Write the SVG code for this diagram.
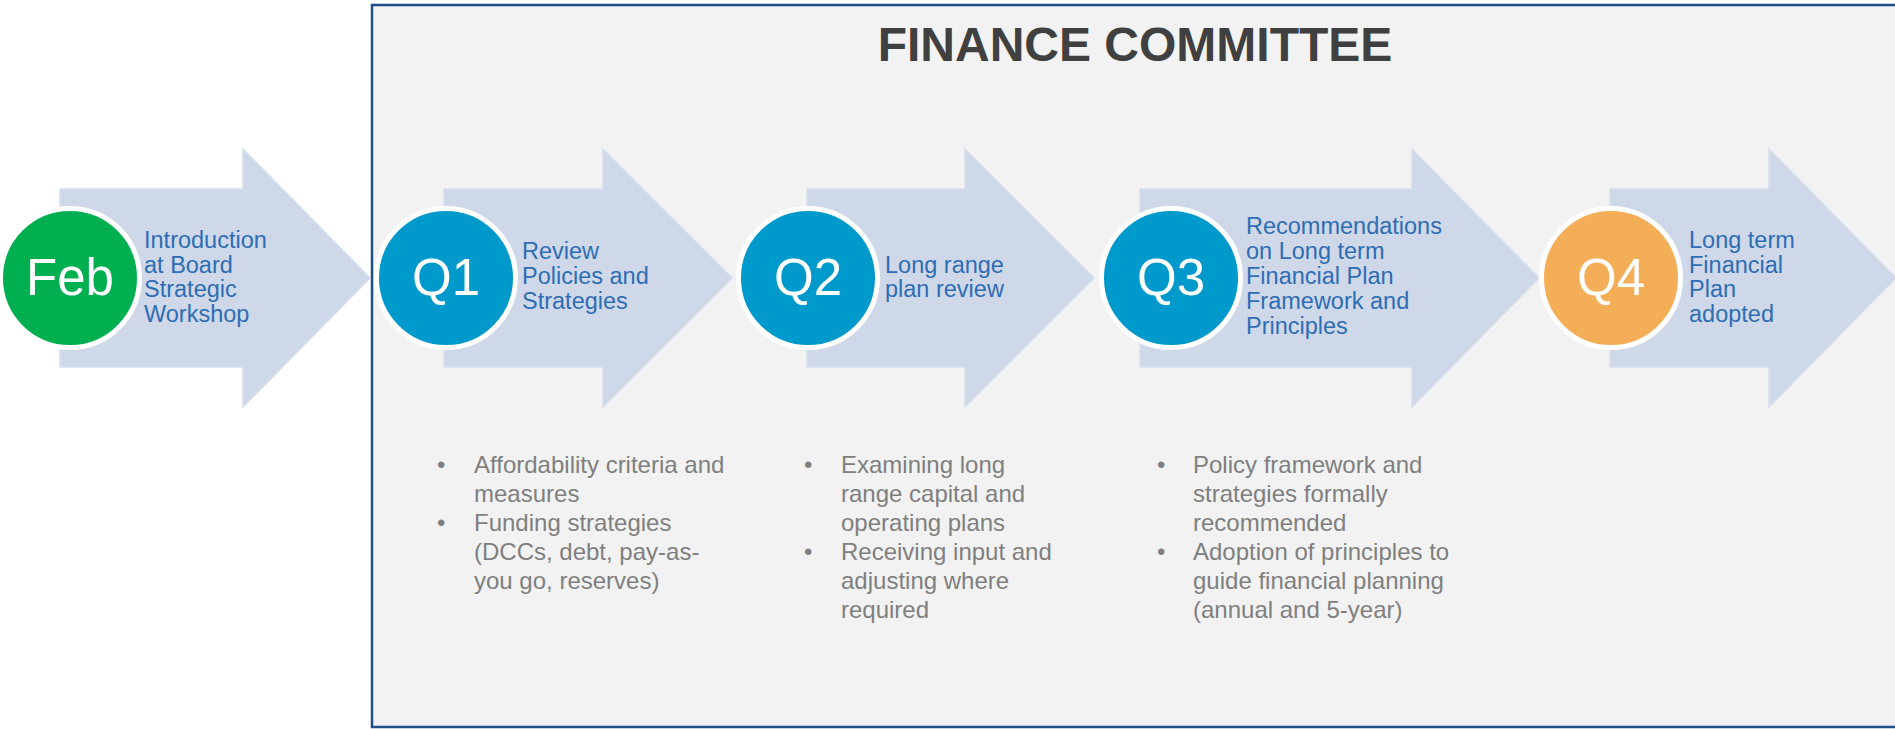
<svg xmlns="http://www.w3.org/2000/svg" width="1895" height="729" viewBox="0 0 1895 729">
<style>
.arrow{fill:#CFD8E8;stroke:#D6DEEC;stroke-width:1.5}
.circ{stroke:#FFFFFF;stroke-width:5}
.ctext{font-family:"Liberation Sans",Arial,sans-serif;font-size:51px;fill:#FFFFFF;text-anchor:middle}
.label{font-family:"Liberation Sans",Arial,sans-serif;font-size:23.5px;fill:#2E6DB4}
.bul{font-family:"Liberation Sans",Arial,sans-serif;font-size:24px;fill:#7F7F7F}
.title{font-family:"Liberation Sans",Arial,sans-serif;font-size:48px;font-weight:bold;fill:#404040;text-anchor:middle}
</style>
<rect x="0" y="0" width="1895" height="729" fill="#FFFFFF"/>
<g id="finance-committee">
<rect x="372" y="5" width="1540" height="722" fill="#F2F2F2" stroke="#1F4E89" stroke-width="2.5"/>
<text class="title" x="1135" y="61">FINANCE COMMITTEE</text>
</g>
<g id="connectors"></g>
<g id="node-feb">
<polygon class="arrow" points="60,189 243,189 243,149 370,278 243,407 243,367 60,367"/>
<circle class="circ" cx="70" cy="278" r="69.5" fill="#00B050"/>
<text class="ctext" x="70" y="295">Feb</text>
<text class="label"><tspan x="144" y="248">Introduction</tspan><tspan x="144" y="272.5">at Board</tspan><tspan x="144" y="297">Strategic</tspan><tspan x="144" y="321.5">Workshop</tspan></text>
</g>
<g id="node-q1">
<polygon class="arrow" points="444,189 603,189 603,149 732,278 603,407 603,367 444,367"/>
<circle class="circ" cx="446" cy="278" r="69.5" fill="#0099CC"/>
<text class="ctext" x="446" y="295">Q1</text>
<text class="label"><tspan x="522" y="259">Review</tspan><tspan x="522" y="284">Policies and</tspan><tspan x="522" y="308.5">Strategies</tspan></text>
<text class="bul"><tspan x="437" y="473">•</tspan><tspan x="474" y="473">Affordability criteria and</tspan><tspan x="474" y="502">measures</tspan><tspan x="437" y="531">•</tspan><tspan x="474" y="531">Funding strategies</tspan><tspan x="474" y="560">(DCCs, debt, pay-as-</tspan><tspan x="474" y="589">you go, reserves)</tspan></text>
</g>
<g id="node-q2">
<polygon class="arrow" points="807,189 965,189 965,149 1094,278 965,407 965,367 807,367"/>
<circle class="circ" cx="808" cy="278" r="69.5" fill="#0099CC"/>
<text class="ctext" x="808" y="295">Q2</text>
<text class="label"><tspan x="885" y="273">Long range</tspan><tspan x="885" y="297">plan review</tspan></text>
<text class="bul"><tspan x="804" y="473">•</tspan><tspan x="841" y="473">Examining long</tspan><tspan x="841" y="502">range capital and</tspan><tspan x="841" y="531">operating plans</tspan><tspan x="804" y="560">•</tspan><tspan x="841" y="560">Receiving input and</tspan><tspan x="841" y="589">adjusting where</tspan><tspan x="841" y="618">required</tspan></text>
</g>
<g id="node-q3">
<polygon class="arrow" points="1140,189 1412,189 1412,149 1539,278 1412,407 1412,367 1140,367"/>
<circle class="circ" cx="1171" cy="278" r="69.5" fill="#0099CC"/>
<text class="ctext" x="1171" y="295">Q3</text>
<text class="label"><tspan x="1246" y="234">Recommendations</tspan><tspan x="1246" y="259">on Long term</tspan><tspan x="1246" y="284">Financial Plan</tspan><tspan x="1246" y="309">Framework and</tspan><tspan x="1246" y="333.5">Principles</tspan></text>
<text class="bul"><tspan x="1157" y="473">•</tspan><tspan x="1193" y="473">Policy framework and</tspan><tspan x="1193" y="502">strategies formally</tspan><tspan x="1193" y="531">recommended</tspan><tspan x="1157" y="560">•</tspan><tspan x="1193" y="560">Adoption of principles to</tspan><tspan x="1193" y="589">guide financial planning</tspan><tspan x="1193" y="618">(annual and 5-year)</tspan></text>
</g>
<g id="node-q4">
<polygon class="arrow" points="1610,189 1769,189 1769,149 1896,278 1769,407 1769,367 1610,367"/>
<circle class="circ" cx="1611" cy="278" r="69.5" fill="#F5AE58"/>
<text class="ctext" x="1611" y="295">Q4</text>
<text class="label"><tspan x="1689" y="248">Long term</tspan><tspan x="1689" y="272.5">Financial</tspan><tspan x="1689" y="297">Plan</tspan><tspan x="1689" y="321.5">adopted</tspan></text>
</g>
</svg>
